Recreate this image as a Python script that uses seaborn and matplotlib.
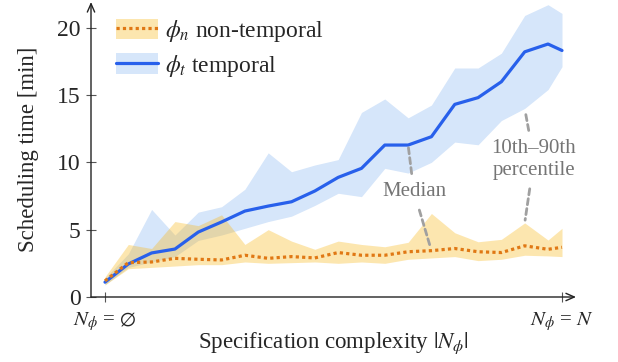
import numpy as np
import pandas as pd
import matplotlib
matplotlib.use("Agg")
import matplotlib.pyplot as plt
import seaborn as sns
from matplotlib.patches import Patch
from matplotlib.lines import Line2D

# ---- data ----
x = [0, 1, 2, 3, 4, 5, 6, 7, 8, 9, 10, 11, 12, 13, 14, 15, 16, 17, 18, 19, 19.6]
t_med = [1.1, 2.45, 3.27, 3.56, 4.82, 5.57, 6.38, 6.75, 7.07, 7.87, 8.88, 9.55,
         11.28, 11.28, 11.9, 14.3, 14.8, 15.98, 18.2, 18.78, 18.3]
t_hi = [1.4, 3.2, 6.5, 4.6, 6.3, 6.7, 8.0, 10.7, 9.3, 9.8, 10.2, 13.7,
        14.7, 13.3, 14.25, 17.0, 17.0, 18.1, 20.9, 21.7, 21.05]
t_lo = [0.9, 2.2, 2.6, 3.0, 4.2, 4.6, 5.1, 5.6, 6.0, 6.8, 7.7, 7.45,
        9.55, 9.2, 10.0, 11.5, 11.3, 13.1, 14.0, 15.4, 17.1]
n_med = [1.2, 2.55, 2.6, 2.87, 2.8, 2.75, 3.1, 2.87, 3.0, 2.9, 3.3, 3.1,
         3.1, 3.36, 3.44, 3.6, 3.36, 3.3, 3.8, 3.54, 3.69]
n_hi = [1.5, 3.9, 3.6, 5.6, 5.3, 6.1, 3.9, 5.0, 4.15, 3.54, 4.15, 3.9,
        3.73, 4.06, 6.2, 4.77, 4.1, 4.28, 5.5, 4.23, 5.1]
n_lo = [0.9, 2.1, 2.2, 2.3, 2.4, 2.4, 2.6, 2.5, 2.55, 2.6, 2.5, 2.6,
        2.5, 2.8, 2.9, 3.0, 2.7, 2.8, 3.1, 3.05, 3.0]
series_labels = [r"$\phi_n$ non-temporal", r"$\phi_t$ temporal"]
y_ticks = [0, 5, 10, 15, 20]
x_tick_labels = [r"$N_\phi$ = $\emptyset$", r"$N_\phi$ = $N$"]

# ---- style ----
sns.set_theme(style="white")
plt.rcParams["font.family"] = ["Liberation Serif", "DejaVu Serif"]
plt.rcParams["mathtext.fontset"] = "stix"
FS_ANN = 15
FS_LAB = 16.5
FS_LEG = 17
FS_YT = 17
FS_XT = 15

blue_line = "#2860eb"
blue_fill = (50 / 255, 130 / 255, 230 / 255)
orange_line = "#e07814"
yellow_fill = (249 / 255, 184 / 255, 26 / 255)
gray_txt = "#757575"
gray_dash = "#a0a0a0"

fig = plt.figure(figsize=(6.18, 3.62), dpi=100)
ax = fig.add_axes([91 / 618, 1 - 297 / 362, (576 - 91) / 618, (297 - 2) / 362])

df_t = pd.DataFrame({"x": x, "y": t_med})
df_n = pd.DataFrame({"x": x, "y": n_med})

ax.fill_between(x, t_lo, t_hi, color=blue_fill, alpha=0.2, lw=0, zorder=1)
ax.fill_between(x, n_lo, n_hi, color=yellow_fill, alpha=0.35, lw=0, zorder=2)
sns.lineplot(data=df_t, x="x", y="y", ax=ax, color=blue_line, lw=2.3, zorder=3)
sns.lineplot(data=df_n, x="x", y="y", ax=ax, color=orange_line, lw=2.3,
             linestyle=(0, (1, 1)), zorder=4)

ax.set_xlim(-0.6, 20.2)
ax.set_ylim(0, 21.9)
ax.set_yticks(y_ticks)
ax.set_yticklabels([str(v) for v in y_ticks], fontsize=FS_YT)
ax.set_xticks([x[0], x[-1]])
ax.set_xticklabels(x_tick_labels, fontsize=FS_XT)
ax.tick_params(axis="both", direction="inout", length=7, width=0.8,
               color="#555555", left=True, bottom=True)
ax.tick_params(axis="y", pad=4)
ax.tick_params(axis="x", pad=6)
ax.set_xlabel(r"Specification complexity $|N_\phi|$", fontsize=FS_LAB, labelpad=-2)
ax.set_ylabel("Scheduling time [min]", fontsize=FS_LAB, labelpad=13)

for s in ax.spines.values():
    s.set_visible(False)
arrow_props = dict(arrowstyle="->,head_length=0.5,head_width=0.22",
                   color="#222222", lw=1.0, shrinkA=0, shrinkB=0)
ax.annotate("", xy=(1, 0), xytext=(0, 0), xycoords="axes fraction",
            textcoords="axes fraction", arrowprops=arrow_props)
ax.annotate("", xy=(0, 1), xytext=(0, 0), xycoords="axes fraction",
            textcoords="axes fraction", arrowprops=arrow_props)

# annotations
dash_props = dict(arrowstyle="-", color=gray_dash, lw=2.0,
                  linestyle=(0, (2.2, 1.4)), shrinkA=4, shrinkB=2)
med_pos = (13.25, 7.8)
ax.annotate("Median", xy=(x[13], t_med[13]), xytext=med_pos, ha="center",
            va="center", fontsize=FS_ANN, color=gray_txt, arrowprops=dash_props, zorder=5)
ax.annotate("Median", xy=(x[14], n_med[14]), xytext=med_pos, ha="center",
            va="center", fontsize=FS_ANN, color="none", arrowprops=dash_props, zorder=5)
pct_pos = (18.4, 10.2)
pct_txt = "10th\u201390th\npercentile"
ax.annotate(pct_txt, xy=(x[18], t_lo[18]), xytext=pct_pos, ha="center",
            va="center", fontsize=FS_ANN, color=gray_txt, linespacing=1.2,
            arrowprops=dash_props, zorder=5)
ax.annotate(pct_txt, xy=(x[18], n_hi[18]), xytext=pct_pos, ha="center",
            va="center", fontsize=FS_ANN, color="none", linespacing=1.2,
            arrowprops=dash_props, zorder=5)

# legend
h_n = (Patch(facecolor=yellow_fill, alpha=0.35, lw=0),
       Line2D([], [], color=orange_line, lw=2.3, linestyle=(0, (1, 1))))
h_t = (Patch(facecolor=blue_fill, alpha=0.2, lw=0),
       Line2D([], [], color=blue_line, lw=2.3))
ax.legend([h_n, h_t], series_labels, loc="upper left",
          bbox_to_anchor=(0.052, 0.945), frameon=False, fontsize=FS_LEG,
          handlelength=1.75, handleheight=0.95, handletextpad=0.3,
          labelspacing=0.36, borderaxespad=0, borderpad=0)

fig.savefig("out.png", dpi=100)
